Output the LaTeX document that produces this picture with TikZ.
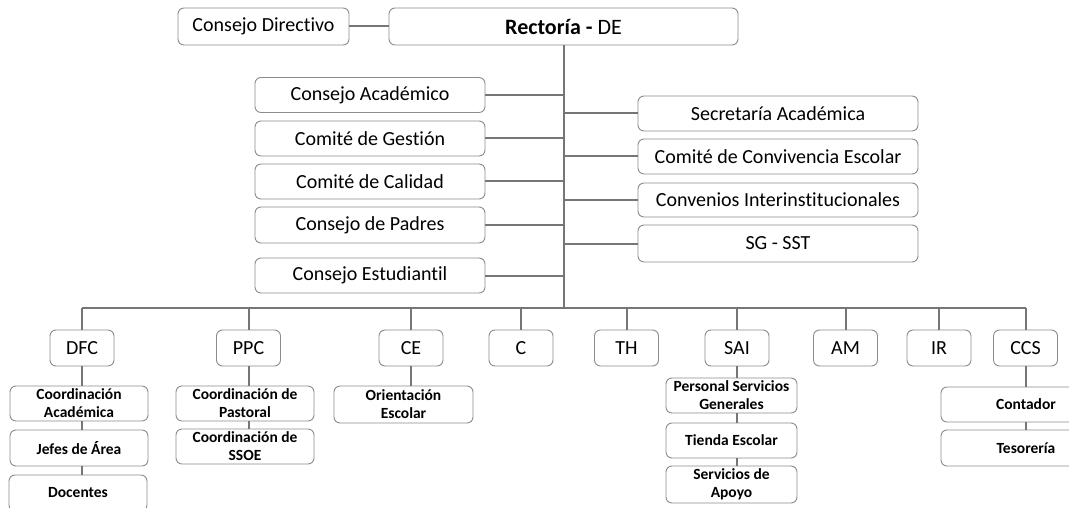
\documentclass[tikz,border=0pt]{standalone}
\usepackage{fontspec}
\setmainfont{Carlito}[Ligatures=NoCommon]
\usepackage{tikz}
\definecolor{boxgray}{HTML}{8C8C8C}
\definecolor{linegray}{HTML}{767676}

\tikzset{
  unit/.style={draw=boxgray, line width=0.9pt, rounded corners=6pt, fill=white,
    inner sep=0pt, align=center, font=\fontsize{20}{22}\selectfont},
  subunit/.style={unit, font=\bfseries\fontsize{15.5}{18}\selectfont},
  link/.style={draw=linegray, line width=2pt}
}

\begin{document}
\begin{tikzpicture}[x=1pt, y=-1pt]
  \useasboundingbox (0,0) rectangle (1069,508);

  % Top level
  \node[unit, minimum width=171pt, minimum height=37pt] (cdir) at (263.5,26.5) {Consejo Directivo};
  \node[unit, minimum width=349pt, minimum height=37pt, font=\fontsize{22}{24}\selectfont] (rect) at (563.5,26.5) {\textbf{Rectoría -} DE};
  \coordinate (bus) at (564,308);

  % Left side
  \node[unit, minimum width=230pt, minimum height=35pt] (cacad) at (370,95) {Consejo Académico};
  \node[unit, minimum width=230pt, minimum height=35pt] (cgest) at (370,138.5) {Comité de Gestión};
  \node[unit, minimum width=230pt, minimum height=35pt] (ccal) at (370,181.5) {Comité de Calidad};
  \node[unit, minimum width=230pt, minimum height=36pt] (cpad) at (370,225) {Consejo de Padres};
  \node[unit, minimum width=230pt, minimum height=35pt] (cest) at (370,275.5) {Consejo Estudiantil};

  % Right side
  \node[unit, minimum width=280pt, minimum height=35pt] (secr) at (778,113.5) {Secretaría Académica};
  \node[unit, minimum width=280pt, minimum height=35pt] (conv) at (778,156.5) {Comité de Convivencia Escolar};
  \node[unit, minimum width=280pt, minimum height=34pt] (inter) at (778,200) {Convenios Interinstitucionales};
  \node[unit, minimum width=280pt, minimum height=37pt] (sst) at (778,243.5) {SG - SST};

  % Departments
  \node[unit, minimum width=64pt, minimum height=36pt] (dfc) at (82,348) {DFC};
  \node[unit, minimum width=64pt, minimum height=36pt] (ppc) at (248.5,348) {PPC};
  \node[unit, minimum width=64pt, minimum height=36pt] (ce) at (411,348) {CE};
  \node[unit, minimum width=64pt, minimum height=36pt] (c) at (521,348) {C};
  \node[unit, minimum width=64pt, minimum height=36pt] (th) at (626.5,348) {TH};
  \node[unit, minimum width=64pt, minimum height=36pt] (sai) at (737,348) {SAI};
  \node[unit, minimum width=64pt, minimum height=36pt] (am) at (845.5,348) {AM};
  \node[unit, minimum width=64pt, minimum height=36pt] (ir) at (939,348) {IR};
  \node[unit, minimum width=64pt, minimum height=36pt] (ccs) at (1025.5,348) {CCS};

  % Sub units
  \node[subunit, minimum width=138pt, minimum height=35pt] (coacad) at (79,403.5) {Coordinación\\Académica};
  \node[subunit, minimum width=138pt, minimum height=36pt] (jefes) at (79,448) {Jefes de Área};
  \node[subunit, minimum width=138pt, minimum height=36pt] (doc) at (78,493) {Docentes};
  \node[subunit, minimum width=138pt, minimum height=35pt] (copas) at (245,403.5) {Coordinación de\\Pastoral};
  \node[subunit, minimum width=138pt, minimum height=35pt] (cossoe) at (245,446.5) {Coordinación de\\SSOE};
  \node[subunit, minimum width=139pt, minimum height=37pt] (orient) at (403.5,404.5) {Orientación\\Escolar};
  \node[subunit, minimum width=131pt, minimum height=35pt] (pers) at (731.5,395.5) {Personal Servicios\\Generales};
  \node[subunit, minimum width=131pt, minimum height=35pt] (tienda) at (731.5,440.5) {Tienda Escolar};
  \node[subunit, minimum width=131pt, minimum height=37pt] (apoyo) at (731.5,484.5) {Servicios de\\Apoyo};
  \node[subunit, minimum width=170pt, minimum height=35pt] (cont) at (1026,404.5) {Contador};
  \node[subunit, minimum width=170pt, minimum height=36pt] (teso) at (1026,448) {Tesorería};

  % Connectors
  \draw[link] (cdir) -- (rect);
  \draw[link] (rect.south -| bus) -- (bus);
  \foreach \n in {cacad,cgest,ccal,cpad,cest}
    \draw[link] (\n.east) -- (\n.east -| bus);
  \foreach \n in {secr,conv,inter,sst}
    \draw[link] (\n.west) -- (\n.west -| bus);
  \draw[link] (dfc.north |- bus) -- (ccs.north |- bus);
  \foreach \n in {dfc,ppc,ce,c,th,sai,am,ir,ccs}
    \draw[link] (\n.north) -- (\n.north |- bus);
  \draw[link] (dfc.south) -- (dfc.south |- coacad.north);
  \draw[link] (dfc.south |- coacad.south) -- (dfc.south |- jefes.north);
  \draw[link] (dfc.south |- jefes.south) -- (dfc.south |- doc.north);
  \draw[link] (ppc.south) -- (ppc.south |- copas.north);
  \draw[link] (ppc.south |- copas.south) -- (ppc.south |- cossoe.north);
  \draw[link] (ce.south) -- (ce.south |- orient.north);
  \draw[link] (sai.south) -- (sai.south |- pers.north);
  \draw[link] (sai.south |- pers.south) -- (sai.south |- tienda.north);
  \draw[link] (sai.south |- tienda.south) -- (sai.south |- apoyo.north);
  \draw[link] (ccs.south) -- (ccs.south |- cont.north);
  \draw[link] (cont.south) -- (teso.north);
\end{tikzpicture}
\end{document}
